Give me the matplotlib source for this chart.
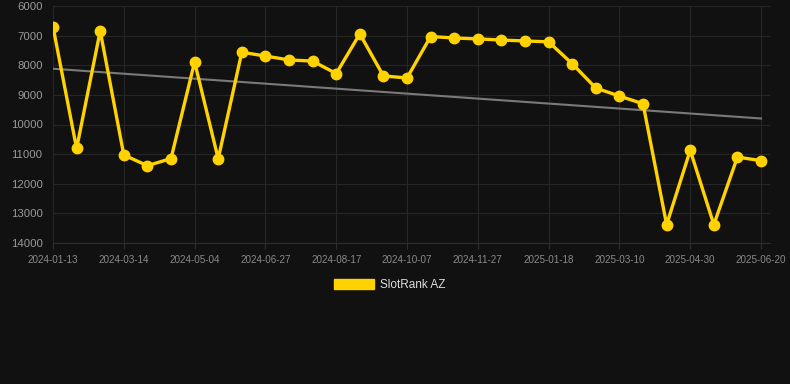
import numpy as np
import matplotlib
matplotlib.use("Agg")
from matplotlib import pyplot as plt
from matplotlib.patches import Patch

# Rangos (menor = mejor, eje invertido)
ranks = [6700, 10810, 6840, 11030, 11390, 11150, 7890, 11160, 7560, 7690,
         7820, 7860, 8280, 6940, 8360, 8430, 7030, 7080, 7110, 7150,
         7180, 7210, 7950, 8770, 9040, 9300, 13380, 10870, 13380, 11100,
         11220]
tick_labels = ["2024-01-13", "2024-03-14", "2024-05-04", "2024-06-27",
               "2024-08-17", "2024-10-07", "2024-11-27", "2025-01-18",
               "2025-03-10", "2025-04-30", "2025-06-20"]
y_ticks = [6000, 7000, 8000, 9000, 10000, 11000, 12000, 13000, 14000]
series_name = "SlotRank AZ"

bg = "#111111"
gold = "#FFD200"

plt.rcParams["font.family"] = ["Liberation Sans", "DejaVu Sans"]

x = np.arange(len(ranks))
# Linea de tendencia por regresion lineal
coef = np.polyfit(x, ranks, 1)
trend = np.polyval(coef, x)

fig = plt.figure(figsize=(7.9, 3.84), dpi=100, facecolor=bg)
ax = fig.add_axes([53 / 790, 1 - 243 / 384, (770 - 53) / 790, (243 - 6) / 384])
ax.set_facecolor(bg)

ax.plot(x, trend, color="#7a7a7a", linewidth=1.5, zorder=2)
ax.plot(x, ranks, color=gold, linewidth=2.4, marker="o", markersize=7.5, zorder=3)

ax.set_ylim(14000, 6000)
ax.set_xlim(0, len(ranks) - 1 + 0.38)
ax.set_yticks(y_ticks)
ax.set_yticklabels([str(v) for v in y_ticks])
ax.set_xticks(x[::3])
ax.set_xticklabels(tick_labels)

ax.grid(True, color="#262626", linewidth=0.8)
ax.set_axisbelow(True)
for side in ["top", "right", "left"]:
    ax.spines[side].set_visible(False)
ax.spines["bottom"].set_color("#2e2e2e")

ax.tick_params(axis="y", colors="#9a9a9a", labelsize=8.2, length=0, pad=7.5)
ax.tick_params(axis="x", colors="#2e2e2e", labelcolor="#8a8a8a", labelsize=7.1, length=4, pad=4.5)

handle = Patch(facecolor=gold, edgecolor=gold)
fig.legend([handle], [series_name], loc="center", bbox_to_anchor=(390 / 790, 1 - 285 / 384),
           frameon=False, fontsize=8.5, labelcolor="#dddddd",
           handlelength=3.4, handleheight=1.0, handletextpad=0.5)

fig.savefig("out.png", dpi=100, facecolor=bg)
